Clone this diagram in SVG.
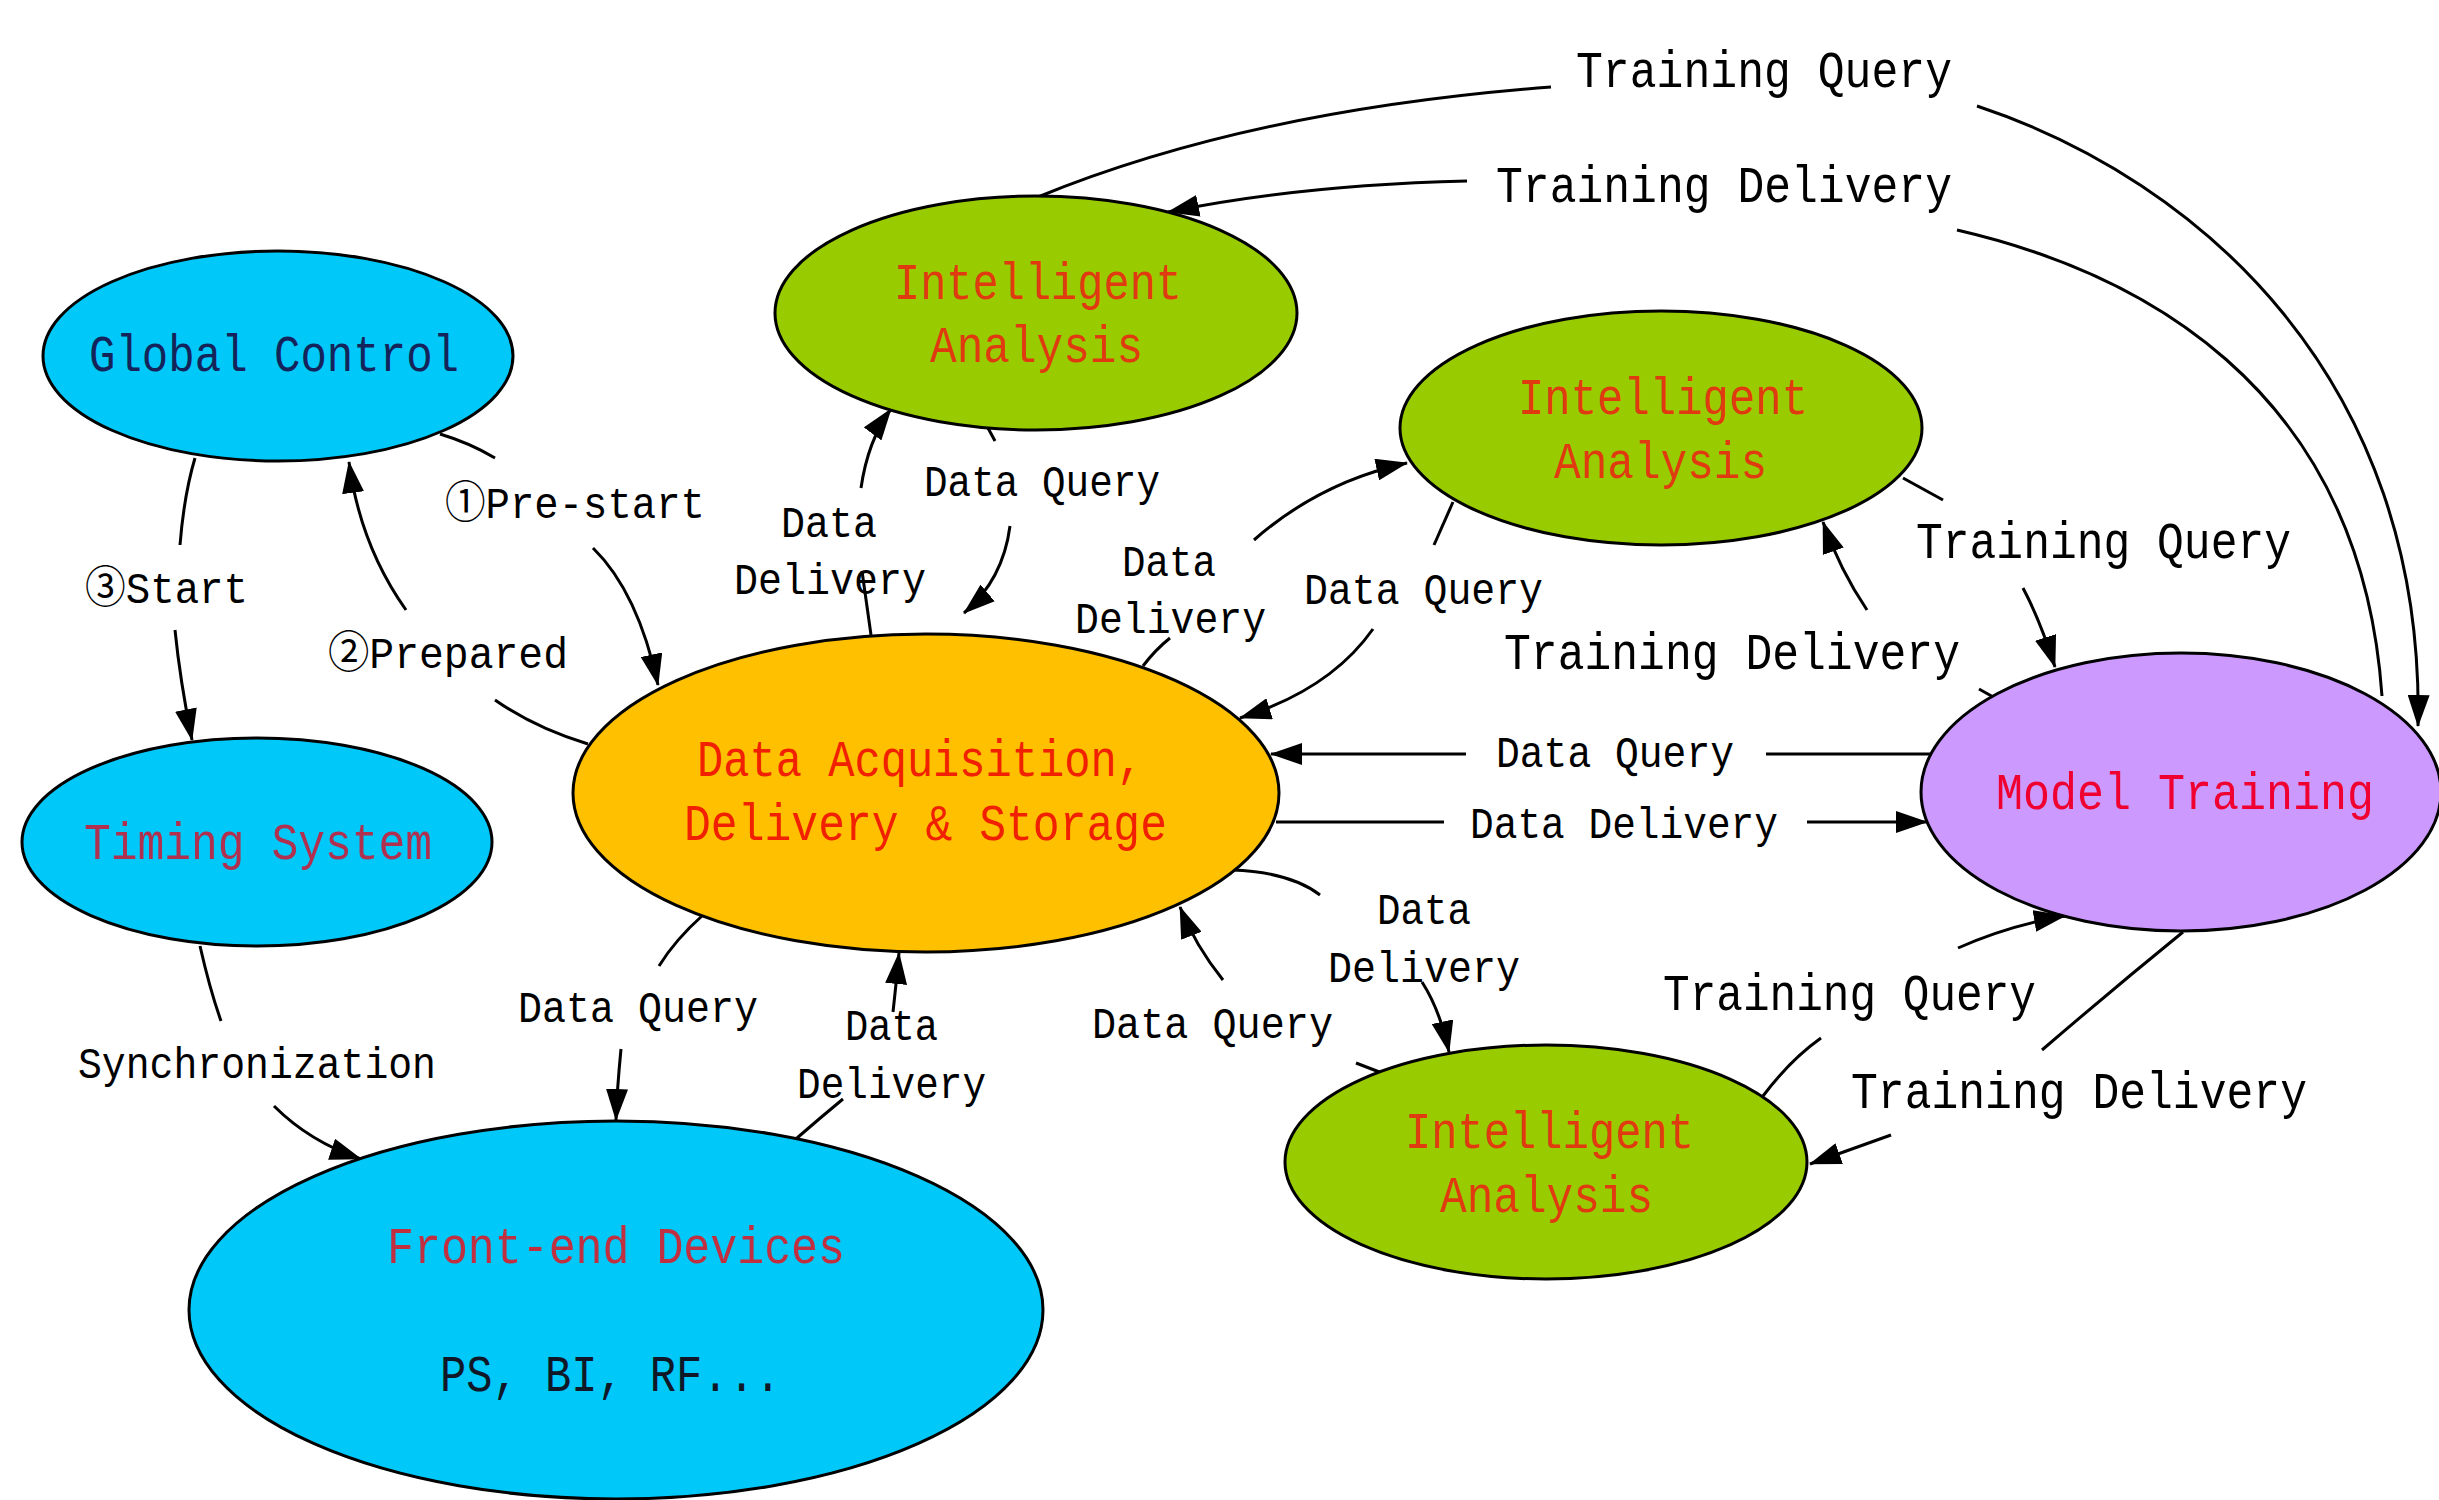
<svg xmlns="http://www.w3.org/2000/svg" width="2439" height="1500" viewBox="0 0 2439 1500">
  <defs>
    <marker id="arrow" viewBox="0 0 32 22" refX="31" refY="11" markerWidth="32" markerHeight="22" markerUnits="userSpaceOnUse" orient="auto">
      <path d="M0,0 L32,11 L0,22 Z" fill="#000"/>
    </marker>
    <style>
      .node { stroke: #000; stroke-width: 3; }
      .cyan { fill: #00C8F8; }
      .green { fill: #99CC00; }
      .orange { fill: #FFC000; }
      .purple { fill: #CC99FF; }
      text { font-family: "Liberation Mono", "DejaVu Sans Mono", "Noto Sans CJK SC", monospace; }
      .big { font-size: 52px; }
      .small { font-size: 44px; fill: #000; }
      .edge path { fill: none; stroke: #000; stroke-width: 3; }
      .edge path.arr { marker-end: url(#arrow); }
    </style>
  </defs>
  <rect width="2439" height="1500" fill="#fff"/>

  <!-- connectors -->
  <g id="connectors" class="edge">
    <!-- Global Control -> Data Acquisition (pre-start) -->
    <path d="M440,434 Q470,443 495,458"/>
    <path class="arr" d="M593,548 Q638,592 658,685"/>
    <!-- Data Acquisition -> Global Control (prepared) -->
    <path d="M588,744 Q535,728 495,700"/>
    <path class="arr" d="M406,610 Q360,545 349,462"/>
    <!-- Global Control -> Timing System (start) -->
    <path d="M195,458 Q184,495 180,545"/>
    <path class="arr" d="M175,630 Q180,680 192,740"/>
    <!-- Timing System -> Front-end Devices (synchronization) -->
    <path d="M200,946 Q210,990 221,1021"/>
    <path class="arr" d="M274,1106 Q310,1142 361,1159"/>
    <!-- Data Acquisition <-> Front-end Devices -->
    <path d="M703,915 Q675,940 659,966"/>
    <path class="arr" d="M621,1049 Q617,1090 616,1120"/>
    <path d="M797,1138 Q820,1118 843,1099"/>
    <path class="arr" d="M893,1012 Q896,985 899,953"/>
    <!-- Data Acquisition <-> Intelligent Analysis (top) -->
    <path d="M871,635 Q866,600 862,571"/>
    <path class="arr" d="M861,488 Q868,440 891,409"/>
    <path d="M988,428 L995,441"/>
    <path class="arr" d="M1010,526 Q1003,580 964,613"/>
    <!-- Data Acquisition <-> Intelligent Analysis (right) -->
    <path d="M1143,666 Q1155,650 1170,638"/>
    <path class="arr" d="M1254,540 Q1320,482 1407,463"/>
    <path d="M1453,502 L1434,545"/>
    <path class="arr" d="M1373,629 Q1330,690 1240,718"/>
    <!-- Data Acquisition <-> Model Training -->
    <path d="M1932,754 L1766,754"/>
    <path class="arr" d="M1466,754 L1271,754"/>
    <path d="M1276,822 L1444,822"/>
    <path class="arr" d="M1807,822 L1927,822"/>
    <!-- Data Acquisition <-> Intelligent Analysis (bottom) -->
    <path d="M1232,870 Q1290,872 1320,895"/>
    <path class="arr" d="M1422,982 Q1440,1010 1449,1052"/>
    <path d="M1382,1073 L1356,1063"/>
    <path class="arr" d="M1223,980 Q1195,945 1180,907"/>
    <!-- Intelligent Analysis (bottom) <-> Model Training -->
    <path d="M1763,1096 Q1790,1060 1821,1038"/>
    <path class="arr" d="M1958,948 Q2010,925 2065,916"/>
    <path d="M2183,932 Q2113,989 2042,1050"/>
    <path class="arr" d="M1891,1135 L1810,1164"/>
    <!-- Intelligent Analysis (right) <-> Model Training -->
    <path d="M1903,478 L1943,500"/>
    <path class="arr" d="M2023,588 Q2040,620 2055,667"/>
    <path d="M1995,698 L1979,689"/>
    <path class="arr" d="M1867,610 Q1840,570 1823,522"/>
    <!-- Intelligent Analysis (top) <-> Model Training -->
    <path d="M1038,197 Q1250,110 1551,87"/>
    <path class="arr" d="M1977,106 C2200,180 2425,380 2418,726"/>
    <path d="M2382,696 C2360,380 2130,270 1957,230"/>
    <path class="arr" d="M1467,181 Q1300,185 1168,212"/>
  </g>

  <!-- nodes -->
  <g id="global-control">
    <ellipse class="node cyan" cx="278" cy="356" rx="235" ry="105"/>
    <text class="big" x="89" y="371" textLength="370" lengthAdjust="spacingAndGlyphs" fill="#14245A">Global Control</text>
  </g>
  <g id="timing-system">
    <ellipse class="node cyan" cx="257" cy="842" rx="235" ry="104"/>
    <text class="big" x="84" y="859" textLength="348" lengthAdjust="spacingAndGlyphs" fill="#B03050">Timing System</text>
  </g>
  <g id="front-end-devices">
    <ellipse class="node cyan" cx="616" cy="1310" rx="427" ry="189"/>
    <text class="big" x="387" y="1263" textLength="458" lengthAdjust="spacingAndGlyphs" fill="#C03040">Front-end Devices</text>
    <text class="big" x="440" y="1391" textLength="341" lengthAdjust="spacingAndGlyphs" fill="#101828">PS, BI, RF...</text>
  </g>
  <g id="data-acquisition">
    <ellipse class="node orange" cx="926" cy="793" rx="353" ry="159"/>
    <text class="big" x="697" y="776" textLength="446" lengthAdjust="spacingAndGlyphs" fill="#F02000">Data Acquisition,</text>
    <text class="big" x="684" y="840" textLength="483" lengthAdjust="spacingAndGlyphs" fill="#F02000">Delivery &amp; Storage</text>
  </g>
  <g id="analysis-top">
    <ellipse class="node green" cx="1036" cy="313" rx="261" ry="117"/>
    <text class="big" x="894" y="299" textLength="288" lengthAdjust="spacingAndGlyphs" fill="#E03A10">Intelligent</text>
    <text class="big" x="930" y="362" textLength="213" lengthAdjust="spacingAndGlyphs" fill="#E03A10">Analysis</text>
  </g>
  <g id="analysis-right">
    <ellipse class="node green" cx="1661" cy="428" rx="261" ry="117"/>
    <text class="big" x="1518" y="414" textLength="290" lengthAdjust="spacingAndGlyphs" fill="#E03A10">Intelligent</text>
    <text class="big" x="1554" y="478" textLength="213" lengthAdjust="spacingAndGlyphs" fill="#E03A10">Analysis</text>
  </g>
  <g id="analysis-bottom">
    <ellipse class="node green" cx="1546" cy="1162" rx="261" ry="117"/>
    <text class="big" x="1405" y="1148" textLength="289" lengthAdjust="spacingAndGlyphs" fill="#E03A10">Intelligent</text>
    <text class="big" x="1440" y="1212" textLength="213" lengthAdjust="spacingAndGlyphs" fill="#E03A10">Analysis</text>
  </g>
  <g id="model-training">
    <ellipse class="node purple" cx="2181" cy="792" rx="260" ry="139"/>
    <text class="big" x="1996" y="809" textLength="378" lengthAdjust="spacingAndGlyphs" fill="#F00030">Model Training</text>
  </g>

  <!-- connector labels -->
  <g id="labels">
    <text class="small" x="445" y="518" textLength="260" lengthAdjust="spacingAndGlyphs">①Pre-start</text>
    <text class="small" x="328" y="668" textLength="240" lengthAdjust="spacingAndGlyphs">②Prepared</text>
    <text class="small" x="85" y="603" textLength="163" lengthAdjust="spacingAndGlyphs">③Start</text>
    <text class="small" x="78" y="1078" textLength="358" lengthAdjust="spacingAndGlyphs">Synchronization</text>
    <text class="small" x="518" y="1022" textLength="240" lengthAdjust="spacingAndGlyphs">Data Query</text>
    <text class="small" x="845" y="1040" textLength="93" lengthAdjust="spacingAndGlyphs">Data</text>
    <text class="small" x="797" y="1098" textLength="189" lengthAdjust="spacingAndGlyphs">Delivery</text>
    <text class="small" x="1092" y="1038" textLength="241" lengthAdjust="spacingAndGlyphs">Data Query</text>
    <text class="small" x="1377" y="924" textLength="94" lengthAdjust="spacingAndGlyphs">Data</text>
    <text class="small" x="1328" y="982" textLength="192" lengthAdjust="spacingAndGlyphs">Delivery</text>
    <text class="small" x="1496" y="767" textLength="238" lengthAdjust="spacingAndGlyphs">Data Query</text>
    <text class="small" x="1470" y="838" textLength="308" lengthAdjust="spacingAndGlyphs">Data Delivery</text>
    <text class="small" x="1304" y="604" textLength="239" lengthAdjust="spacingAndGlyphs">Data Query</text>
    <text class="small" x="1122" y="576" textLength="94" lengthAdjust="spacingAndGlyphs">Data</text>
    <text class="small" x="1075" y="633" textLength="191" lengthAdjust="spacingAndGlyphs">Delivery</text>
    <text class="small" x="924" y="496" textLength="236" lengthAdjust="spacingAndGlyphs">Data Query</text>
    <text class="small" x="781" y="537" textLength="96" lengthAdjust="spacingAndGlyphs">Data</text>
    <text class="small" x="734" y="594" textLength="192" lengthAdjust="spacingAndGlyphs">Delivery</text>
    <text class="big" x="1576" y="87" textLength="376" lengthAdjust="spacingAndGlyphs" fill="#000">Training Query</text>
    <text class="big" x="1496" y="202" textLength="456" lengthAdjust="spacingAndGlyphs" fill="#000">Training Delivery</text>
    <text class="big" x="1916" y="558" textLength="375" lengthAdjust="spacingAndGlyphs" fill="#000">Training Query</text>
    <text class="big" x="1504" y="669" textLength="456" lengthAdjust="spacingAndGlyphs" fill="#000">Training Delivery</text>
    <text class="big" x="1663" y="1010" textLength="373" lengthAdjust="spacingAndGlyphs" fill="#000">Training Query</text>
    <text class="big" x="1851" y="1108" textLength="456" lengthAdjust="spacingAndGlyphs" fill="#000">Training Delivery</text>
  </g>
</svg>
